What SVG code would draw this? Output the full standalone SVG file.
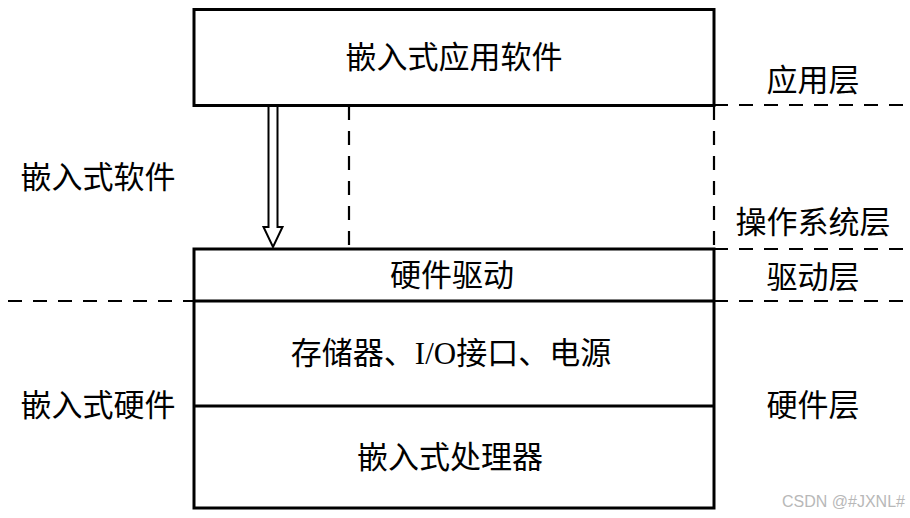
<svg xmlns="http://www.w3.org/2000/svg" width="910" height="518" viewBox="0 0 910 518">
<style>
.box{fill:#fff;stroke:#000;stroke-width:3}
.solid{stroke:#000;stroke-width:3;fill:none}
.dash{stroke:#000;stroke-width:2.2;fill:none;stroke-dasharray:14 11}
.t{font-family:"Liberation Serif","Noto Sans CJK SC",serif;font-size:31px;fill:#000;text-anchor:middle}
.wm{font-family:"Liberation Sans","Noto Sans",sans-serif;font-size:16px;fill:#b8b8b8}
</style>
<rect width="910" height="518" fill="#fff"/>
<g id="connectors">
<line class="dash" x1="714" y1="105" x2="910" y2="105"/>
<line class="dash" x1="714" y1="249" x2="910" y2="249"/>
<line class="dash" x1="8" y1="301" x2="194" y2="301"/>
<line class="dash" x1="714" y1="301" x2="910" y2="301"/>
<line class="dash" x1="349" y1="106" x2="349" y2="248"/>
<line class="dash" x1="714" y1="106" x2="714" y2="248"/>
<path d="M268.5 106 V227 H263.5 L273 247 L282.5 227 H277.5 V106" fill="#fff" stroke="#000" stroke-width="2"/>
</g>
<g id="app">
<rect class="box" x="194" y="9.5" width="520" height="96"/>
<text class="t" x="454" y="68">嵌入式应用软件</text>
</g>
<g id="hw">
<rect class="box" x="194" y="249" width="520" height="259"/>
<line class="solid" x1="194" y1="301" x2="714" y2="301"/>
<line class="solid" x1="194" y1="406" x2="714" y2="406"/>
</g>
<g id="driver"><text class="t" x="452" y="286">硬件驱动</text></g>
<g id="periph"><text class="t" x="451" y="364">存储器、I/O接口、电源</text></g>
<g id="cpu"><text class="t" x="450" y="468">嵌入式处理器</text></g>
<g id="labels">
<text class="t" x="813" y="91">应用层</text>
<text class="t" x="813" y="233">操作系统层</text>
<text class="t" x="813" y="288">驱动层</text>
<text class="t" x="813" y="416">硬件层</text>
<text class="t" x="98" y="188">嵌入式软件</text>
<text class="t" x="98" y="416">嵌入式硬件</text>
</g>
<text class="wm" x="782" y="507">CSDN @#JXNL#</text>
</svg>
